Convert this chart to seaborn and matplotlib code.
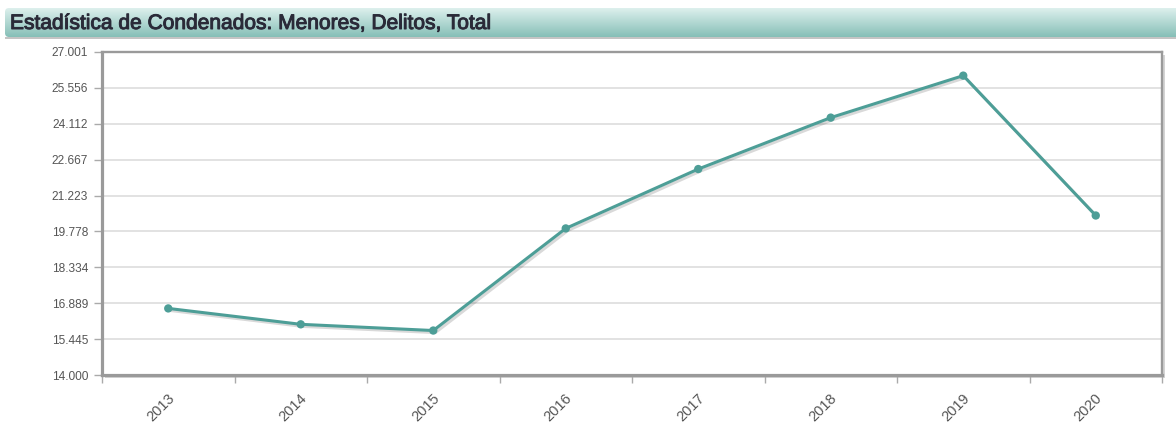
import numpy as np
import pandas as pd
import matplotlib
matplotlib.use("Agg")
import matplotlib.pyplot as plt
import matplotlib.patheffects as pe
import matplotlib.transforms as mtransforms
from matplotlib.patches import FancyBboxPatch, Rectangle
from matplotlib.ticker import FixedLocator, FuncFormatter
import seaborn as sns

# Condenados menores, delitos, total por año
years = ["2013", "2014", "2015", "2016", "2017", "2018", "2019", "2020"]
condenados = [16680, 16040, 15790, 19900, 22290, 24360, 26050, 20420]

y_min, y_max = 14000, 27001
y_ticks = np.linspace(y_min, y_max, 10)

title = "Estadística de Condenados: Menores, Delitos, Total"

df = pd.DataFrame({"year": years, "total": condenados})

sns.set_theme(style="white")
plt.rcParams["font.family"] = ["Liberation Sans", "DejaVu Sans"]

W, H = 1176, 432
fig = plt.figure(figsize=(W / 100, H / 100), dpi=100)
fig.patch.set_facecolor("white")

# plot area in pixel coordinates
L, R, T, B = 102, 1162, 52, 375
ax_rect = [L / W, 1 - B / H, (R - L) / W, (B - T) / H]

# soft drop shadow behind the frame
fig.patches.append(Rectangle(((L + 3) / W, 1 - (B + 3) / H), (R - L) / W, (B - T) / H,
                             transform=fig.transFigure, facecolor="#d4d4d4",
                             edgecolor="none", zorder=0))

ax = fig.add_axes(ax_rect, zorder=1)
ax.set_facecolor("white")

line_color = "#4d9e97"
sns.lineplot(data=df, x="year", y="total", ax=ax, color=line_color, linewidth=2.2,
             marker="o", markersize=6, markeredgewidth=0, sort=False,
             path_effects=[pe.SimpleLineShadow(offset=(1.5, -1.5), alpha=0.15, shadow_color="black"),
                           pe.Normal()])

ax.set_xlim(-0.5, len(years) - 0.5)
ax.set_ylim(y_min, y_max)
ax.set_xlabel("")
ax.set_ylabel("")

# y axis: ticks and horizontal grid
ax.yaxis.set_major_locator(FixedLocator(y_ticks))
ax.yaxis.set_major_formatter(FuncFormatter(lambda v, p: f"{v:,.0f}".replace(",", ".")))
ax.grid(axis="y", color="#dadada", linewidth=1.1)
ax.grid(axis="x", visible=False)
ax.tick_params(axis="y", which="major", length=6, width=1, color="#aaaaaa",
               labelsize=8.6, labelcolor="#555555", pad=4, left=True)

# x axis: labels at band centres, tick marks at band edges
ax.set_xticks(range(len(years)))
ax.set_xticklabels(years, rotation=45, ha="right", va="center", rotation_mode="anchor")
ax.set_xticks(np.arange(-0.5, len(years), 1.0), minor=True)
ax.tick_params(axis="x", which="major", length=0, labelsize=10.5, labelcolor="#555555", pad=15)
ax.tick_params(axis="x", which="minor", length=6, width=1, color="#aaaaaa", bottom=True)
shift = mtransforms.ScaledTranslation(4 / 100, 0, fig.dpi_scale_trans)
for lbl in ax.get_xticklabels():
    lbl.set_transform(lbl.get_transform() + shift)

for side in ["left", "bottom"]:
    ax.spines[side].set_color("#9a9a9a")
    ax.spines[side].set_linewidth(2.3)
for side in ["top", "right"]:
    ax.spines[side].set_color("#9a9a9a")
    ax.spines[side].set_linewidth(1.7)

# title bar with vertical gradient and rounded left corners
bx0, bx1, by0, by1 = 5, 1176, 8, 37
bw, bh = bx1 - bx0, by1 - by0
bar_ax = fig.add_axes([bx0 / W, 1 - by1 / H, bw / W, bh / H], zorder=2)
grad = np.linspace(0, 1, 64).reshape(-1, 1)
top_c = np.array([0xdd, 0xf0, 0xed]) / 255
bot_c = np.array([0x86, 0xbf, 0xb7]) / 255
img = top_c[None, None, :] * (1 - grad[:, :, None]) + bot_c[None, None, :] * grad[:, :, None]
im = bar_ax.imshow(img, aspect="auto", extent=[0, bw, 0, bh])
clip = FancyBboxPatch((0, 0), bw + 20, bh, boxstyle="round,pad=0,rounding_size=4",
                      transform=bar_ax.transData, facecolor="none", edgecolor="none")
bar_ax.add_patch(clip)
im.set_clip_path(clip)
bar_ax.set_xlim(0, bw)
bar_ax.set_ylim(0, bh)
bar_ax.axis("off")
fig.add_artist(Rectangle((bx0 / W, 1 - (by1 + 1.5) / H), bw / W, 1.5 / H,
                         transform=fig.transFigure, facecolor="#c4c4c4", edgecolor="none", zorder=3))
title_color = "#2a2a38"
fig.text(10 / W, 1 - 23.5 / H, title, fontsize=15.1, color=title_color,
         va="center", ha="left", zorder=4,
         path_effects=[pe.withStroke(linewidth=0.7, foreground=title_color)])

fig.savefig("out.png", dpi=100, facecolor="white")
